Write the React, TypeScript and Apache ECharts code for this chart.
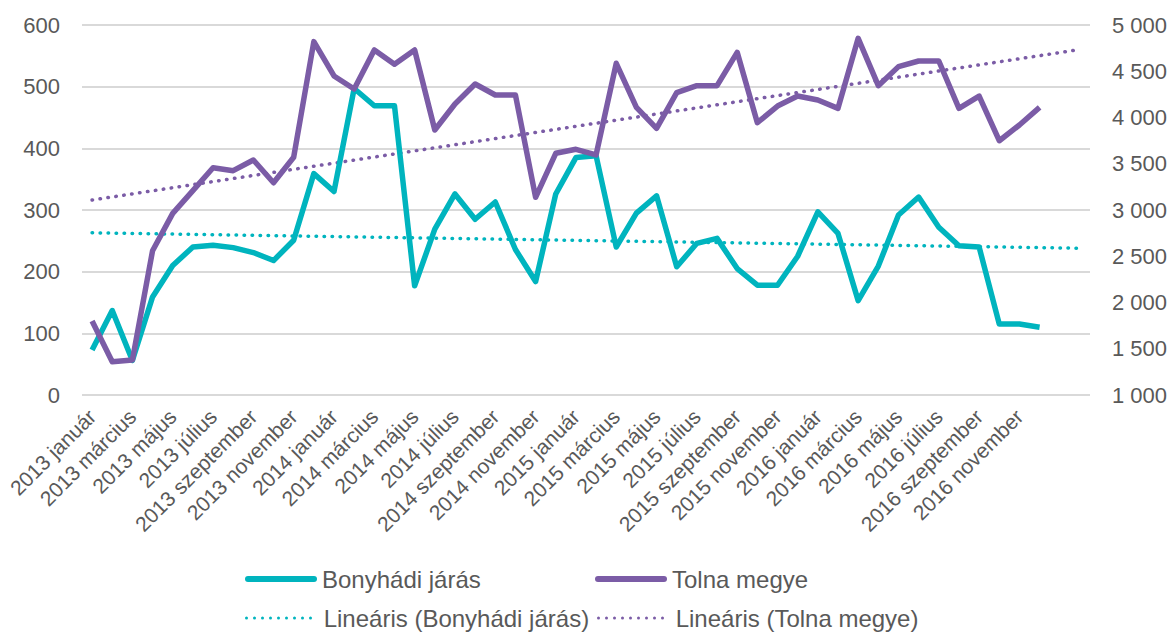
import React, { useEffect, useRef } from "react";
import * as echarts from "echarts";

const years = ["2013", "2014", "2015", "2016"];
const months = ["január", "február", "március", "április", "május", "június", "július", "augusztus", "szeptember", "október", "november", "december"];
// 48 months plus two empty trailing categories (trendline forecast)
const categories: string[] = [...years.flatMap((y) => months.map((m) => `${y} ${m}`)), "", ""];

const bonyhadi = [73, 137, 56, 159, 210, 240, 243, 239, 231, 218, 251, 359, 330, 497, 469, 469, 177, 269, 326, 285, 313, 236, 184, 326, 385, 388, 240, 295, 323, 208, 246, 254, 205, 178, 178, 225, 297, 262, 153, 209, 292, 321, 272, 242, 240, 115, 115, 110];
const tolna = [1800, 1360, 1378, 2560, 2964, 3209, 3457, 3425, 3541, 3295, 3570, 4820, 4449, 4308, 4730, 4575, 4730, 3865, 4146, 4362, 4243, 4243, 3137, 3613, 3656, 3595, 4586, 4110, 3883, 4268, 4344, 4344, 4704, 3944, 4124, 4232, 4189, 4099, 4856, 4344, 4550, 4611, 4611, 4099, 4232, 3749, 3919, 4110];

// trendline endpoints (first and last category)
const bonyTrendEnds = [263, 238];
const tolnaTrendEnds = [3108, 4735];

const leftTicks = { min: 0, max: 600, interval: 100 };
const rightTicks = { min: 1000, max: 5000, interval: 500 };

const TEAL = "#00B4BE";
const PURPLE = "#7B5CA6";
const TEXT = "#595959";
const FONT = "'Liberation Sans', Arial, sans-serif";

const SOLID_ICON = "path://M3,0H69A3,3,0,0,1,69,6H3A3,3,0,0,1,3,0Z";
const DOT_ICON =
  "path://" +
  Array.from({ length: 9 }, (_, k) => {
    const cx = 1.5 + k * 8;
    return `M${cx - 1.5},1.5A1.5,1.5,0,1,0,${cx + 1.5},1.5A1.5,1.5,0,1,0,${cx - 1.5},1.5Z`;
  }).join("");

function trendData(ends: number[]) {
  return categories.map((_, i) => (i === 0 ? ends[0] : i === categories.length - 1 ? ends[1] : null));
}

function fmt(v: number) {
  return String(v).replace(/\B(?=(\d{3})+(?!\d))/g, " ");
}

export default function App() {
  const ref = useRef<HTMLDivElement>(null);
  useEffect(() => {
    document.body.style.margin = "0";
    const chart = echarts.init(ref.current!, null, { renderer: "svg" });
    const legendBase = {
      itemGap: 5,
      padding: 0,
      textStyle: { color: TEXT, fontSize: 24, fontFamily: FONT },
      selectedMode: false,
    };
    const solidLegend = { ...legendBase, itemWidth: 72, itemHeight: 6 };
    const dotLegend = { ...legendBase, itemWidth: 67, itemHeight: 3, formatter: (n: string) => " " + n };
    chart.setOption({
      animation: false,
      textStyle: { fontFamily: FONT },
      grid: { left: 82, right: 83, top: 25, bottom: 238 },
      legend: [
        { ...solidLegend, data: [{ name: "Bonyhádi járás", icon: SOLID_ICON }], left: 245, top: 567 },
        { ...solidLegend, data: [{ name: "Tolna megye", icon: SOLID_ICON }], left: 595, top: 567 },
        { ...dotLegend, data: [{ name: "Lineáris (Bonyhádi járás)", icon: DOT_ICON }], left: 245, top: 606 },
        { ...dotLegend, data: [{ name: "Lineáris (Tolna megye)", icon: DOT_ICON }], left: 597, top: 606 },
      ],
      xAxis: {
        type: "category",
        data: categories,
        boundaryGap: true,
        axisLine: { show: false },
        axisTick: { show: false },
        axisLabel: {
          interval: 1,
          rotate: 45,
          margin: 18,
          color: TEXT,
          fontSize: 21,
          fontFamily: FONT,
        },
      },
      yAxis: [
        {
          type: "value",
          ...leftTicks,
          axisLine: { show: false },
          axisTick: { show: false },
          axisLabel: { color: TEXT, fontSize: 22, fontFamily: FONT, margin: 22 },
          splitLine: { lineStyle: { color: "#D9D9D9", width: 2 } },
        },
        {
          type: "value",
          ...rightTicks,
          position: "right",
          axisLine: { show: false },
          axisTick: { show: false },
          axisLabel: { color: TEXT, fontSize: 22, fontFamily: FONT, margin: 22, formatter: (v: number) => fmt(v) },
          splitLine: { show: false },
        },
      ],
      series: [
        {
          name: "Bonyhádi járás",
          type: "line",
          yAxisIndex: 0,
          data: bonyhadi,
          symbol: "none",
          lineStyle: { color: TEAL, width: 5.5, join: "round" },
          itemStyle: { color: TEAL },
          z: 3,
        },
        {
          name: "Tolna megye",
          type: "line",
          yAxisIndex: 1,
          data: tolna,
          symbol: "none",
          lineStyle: { color: PURPLE, width: 5.5, join: "round" },
          itemStyle: { color: PURPLE },
          z: 3,
        },
        {
          name: "Lineáris (Bonyhádi járás)",
          type: "line",
          yAxisIndex: 0,
          data: trendData(bonyTrendEnds),
          connectNulls: true,
          symbol: "none",
          lineStyle: { color: TEAL, width: 3.5, type: [0.5, 7.5], cap: "round" },
          itemStyle: { color: TEAL },
          z: 2,
        },
        {
          name: "Lineáris (Tolna megye)",
          type: "line",
          yAxisIndex: 1,
          data: trendData(tolnaTrendEnds),
          connectNulls: true,
          symbol: "none",
          lineStyle: { color: PURPLE, width: 3.5, type: [0.5, 7.5], cap: "round" },
          itemStyle: { color: PURPLE },
          z: 2,
        },
      ],
    });
    return () => chart.dispose();
  }, []);
  return <div ref={ref} style={{ width: 1173, height: 633 }} />;
}
